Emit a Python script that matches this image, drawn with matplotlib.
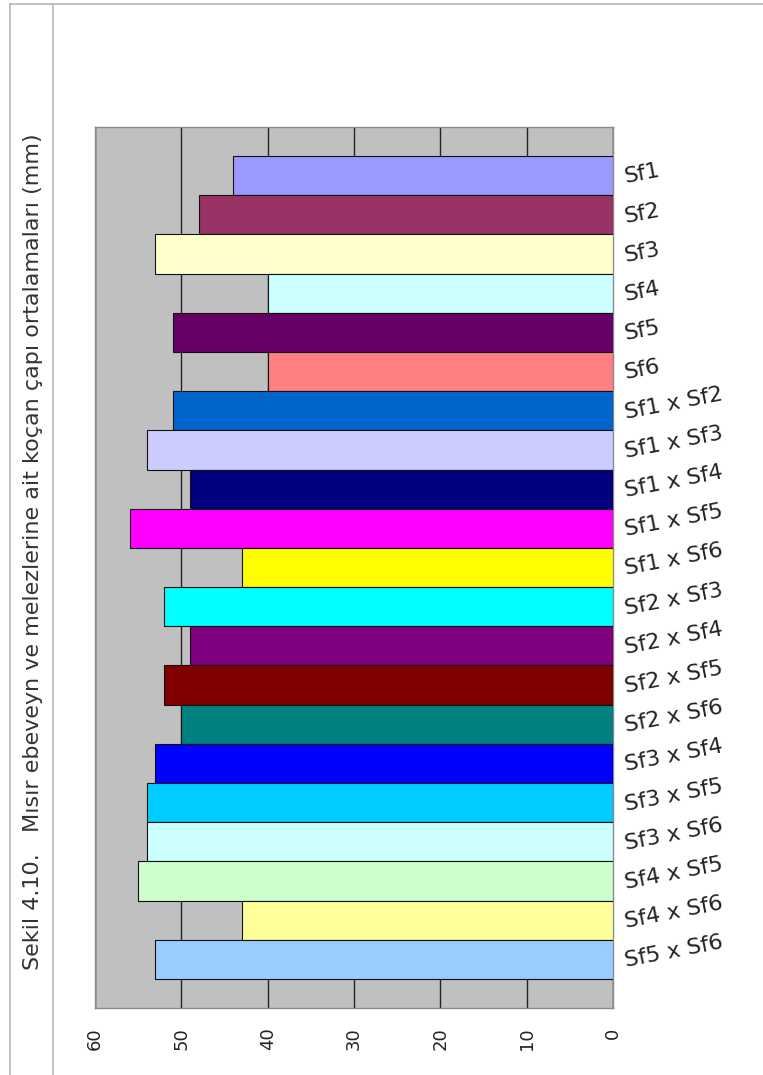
import matplotlib.pyplot as plt
from matplotlib.lines import Line2D

# ear diameter means (mm) for parents and their crosses
genotypes = ['Sf1', 'Sf2', 'Sf3', 'Sf4', 'Sf5', 'Sf6',
             'Sf1 x Sf2', 'Sf1 x Sf3', 'Sf1 x Sf4', 'Sf1 x Sf5', 'Sf1 x Sf6',
             'Sf2 x Sf3', 'Sf2 x Sf4', 'Sf2 x Sf5', 'Sf2 x Sf6',
             'Sf3 x Sf4', 'Sf3 x Sf5', 'Sf3 x Sf6',
             'Sf4 x Sf5', 'Sf4 x Sf6', 'Sf5 x Sf6']
diameter = [44, 48, 53, 40, 51, 40,
            51, 54, 49, 56, 43,
            52, 49, 52, 50,
            53, 54, 54,
            55, 43, 53]
bar_colors = ['#9999FF', '#993366', '#FFFFCC', '#CCFFFF', '#660066', '#FF8080',
              '#0066CC', '#CCCCFF', '#000080', '#FF00FF', '#FFFF00',
              '#00FFFF', '#800080', '#800000', '#008080',
              '#0000FF', '#00CCFF', '#CCFFFF',
              '#CCFFCC', '#FFFF99', '#99CCFF']
value_ticks = [60, 50, 40, 30, 20, 10, 0]
title = 'Sekil 4.10.   Mısır ebeveyn ve melezlerine ait koçan çapı ortalamaları (mm)'

fig = plt.figure(figsize=(7.63, 10.75), dpi=100)
ax = fig.add_axes([0.1245, 0.0623, 0.679, 0.8196])
ax.set_facecolor('#C0C0C0')

pos = list(range(len(genotypes)))
ax.barh(pos, diameter, height=1.0, color=bar_colors, edgecolor='#111111',
        linewidth=0.8, zorder=3)

ax.set_xlim(60, 0)
ax.set_ylim(len(genotypes) - 0.5 + 0.74, -0.5 - 0.74)
ax.set_xticks(value_ticks)
ax.set_xticklabels([str(v) for v in value_ticks], rotation=90, fontsize=13,
                   color='#222222')
ax.tick_params(axis='x', length=0, pad=14)
ax.xaxis.grid(True, color='#222222', linewidth=1.0, zorder=1)
ax.set_axisbelow(True)

ax.set_yticks(pos)
ax.set_yticklabels(genotypes, fontsize=16, rotation=11, color='#222222',
                   rotation_mode='anchor', va='center_baseline', ha='left')
ax.yaxis.tick_right()
ax.tick_params(axis='y', length=0, pad=8)

for s in ax.spines.values():
    s.set_color('#8a8a8a')
    s.set_linewidth(1.0)

# page frame around the caption column
frame = '#b5b5b5'
fig.add_artist(Line2D([10 / 763, 1], [1 - 4 / 1075, 1 - 4 / 1075], color=frame, lw=1.2))
fig.add_artist(Line2D([10 / 763, 10 / 763], [0, 1 - 4 / 1075], color=frame, lw=1.2))
fig.add_artist(Line2D([53 / 763, 53 / 763], [0, 1 - 4 / 1075], color=frame, lw=1.2))

fig.text(33 / 763, 1 - 552 / 1075, title, rotation=90, ha='center', va='center',
         fontsize=16, color='#333333')

fig.savefig('out.png', dpi=100)
